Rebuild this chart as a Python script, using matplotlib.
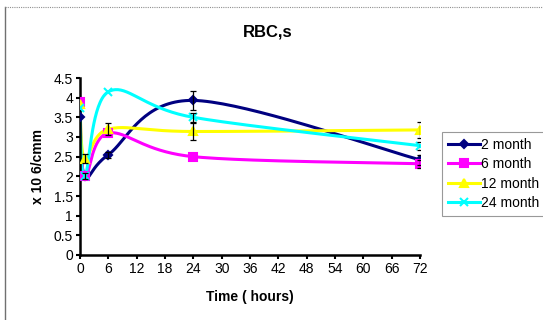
import numpy as np
import matplotlib
matplotlib.use("Agg")
import matplotlib.pyplot as plt
from matplotlib.lines import Line2D

plt.rcParams['font.family'] = ['Liberation Sans', 'DejaVu Sans']

hours = [0, 1, 6, 24, 72]
series_names = ["2 month", "6 month", "12 month", "24 month"]
m2 = [3.5, 2.0, 2.55, 3.93, 2.42]
m6 = [3.9, 2.0, 3.1, 2.5, 2.32]
m12 = [3.85, 2.45, 3.2, 3.14, 3.18]
m24 = [3.75, 2.0, 4.15, 3.5, 2.78]
err2 = [0.0, 0.08, 0.08, 0.24, 0.12]
err6 = [0.0, 0.0, 0.0, 0.0, 0.1]
err12 = [0.0, 0.12, 0.15, 0.22, 0.2]
err24 = [0.0, 0.0, 0.0, 0.12, 0.1]
x_ticks = list(range(0, 73, 6))
y_ticks = [0, 0.5, 1, 1.5, 2, 2.5, 3, 3.5, 4, 4.5]

colors = ["#000080", "#FF00FF", "#FFFF00", "#00FFFF"]
markers = ["D", "s", "^", "x"]
msizes = [4, 6, 6, 6]


def smooth(xs, ys, n=40):
    P = np.column_stack([xs, ys]).astype(float)
    out = []
    for i in range(len(P) - 1):
        p0 = P[i - 1] if i > 0 else P[i]
        p1 = P[i]
        p2 = P[i + 1]
        p3 = P[i + 2] if i + 2 < len(P) else P[i + 1]
        c1 = p1 + (p2 - p0) / 6.0
        c2 = p2 - (p3 - p1) / 6.0
        t = np.linspace(0, 1, n)[:, None]
        seg = ((1 - t) ** 3) * p1 + 3 * ((1 - t) ** 2) * t * c1 + 3 * (1 - t) * t ** 2 * c2 + t ** 3 * p2
        if i > 0:
            seg = seg[1:]
        out.append(seg)
    c = np.vstack(out)
    return c[:, 0], c[:, 1]


fig = plt.figure(figsize=(5.43, 3.2), dpi=100)
ax = fig.add_axes([80 / 543, 1 - 255 / 320, 340 / 543, 177 / 320])

data = [m2, m6, m12, m24]
errs = [err2, err6, err12, err24]
handles = []
for vals, e, col, mk, ms, name in zip(data, errs, colors, markers, msizes, series_names):
    sx, sy = smooth(hours, vals)
    ax.plot(sx, sy, color=col, lw=2.2, solid_capstyle='round', zorder=2)
    ax.plot(hours, vals, ls='none', marker=mk, ms=ms, color=col, mec=col, mew=1.5, zorder=3)
    h = Line2D([], [], color=col, lw=2.2, marker=mk, ms=ms, mec=col, mew=1.5)
    handles.append(h)

for vals, e in zip(data, errs):
    xs = [h for h, ee in zip(hours, e) if ee > 0]
    ys = [v for v, ee in zip(vals, e) if ee > 0]
    es = [ee for ee in e if ee > 0]
    ax.errorbar(xs, ys, yerr=es, fmt='none', ecolor='black', elinewidth=0.9, capsize=2.5, capthick=0.9, zorder=4)

ax.set_xlim(0, 72)
ax.set_ylim(0, 4.5)
ax.set_xticks(x_ticks)
ax.set_yticks(y_ticks)
ax.set_yticklabels(["%g" % v for v in y_ticks])
ax.tick_params(labelsize=10, direction='out', length=3, width=1.5, pad=2)
for s in ['top', 'right']:
    ax.spines[s].set_visible(False)
for s in ['left', 'bottom']:
    ax.spines[s].set_linewidth(1.8)
ax.patch.set_alpha(0)

fig.text(268 / 543, 1 - 32 / 320, "RBC,s", ha='center', va='center', fontsize=12, fontweight='bold')
fig.text(250 / 543, 1 - 297 / 320, "Time ( hours)", ha='center', va='center', fontsize=10, fontweight='bold')
fig.text(38 / 543, 1 - 166 / 320, "x 10 6/cmm", ha='center', va='center', rotation=90, fontsize=10, fontweight='bold')

leg = fig.legend(handles, series_names, loc='upper left', bbox_to_anchor=(442 / 543, 1 - 132 / 320),
                 fontsize=10, frameon=True, fancybox=False, handlelength=2.3, handletextpad=0.1,
                 borderpad=0.4, labelspacing=0.4, borderaxespad=0, markerscale=0.9)
leg.get_frame().set_edgecolor('#808080')
leg.get_frame().set_linewidth(0.8)

fig.add_artist(Line2D([5 / 543, 5 / 543], [0, 1 - 7 / 320], color='#707070', lw=1.0, transform=fig.transFigure))
fig.add_artist(Line2D([5 / 543, 1], [1 - 7 / 320, 1 - 7 / 320], color='#909090', lw=0.8, ls=(0, (1, 1)), transform=fig.transFigure))

fig.savefig("out.png", dpi=100)
